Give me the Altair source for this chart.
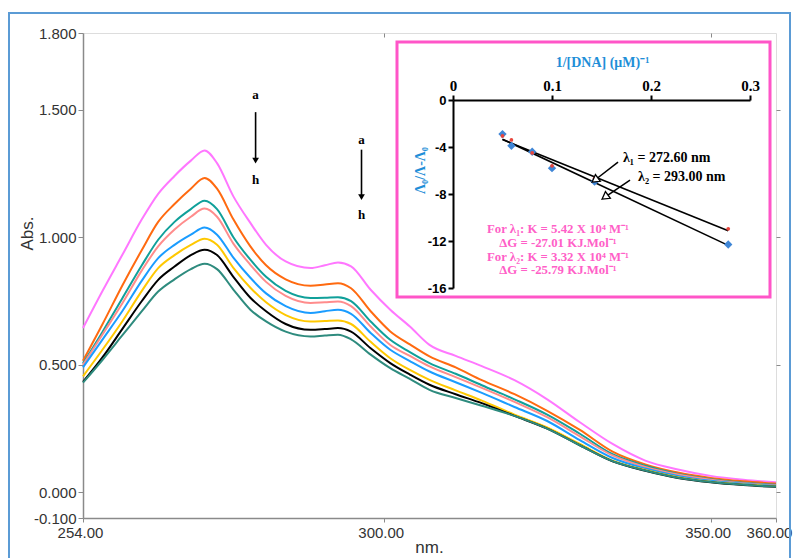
import altair as alt
import pandas as pd

# ---------------- main spectra ----------------
wavelength = [254, 257, 260, 263, 265.5, 268, 270.5, 272.6, 274.5, 277, 279.6, 282, 285, 288.8,
              291, 293, 295, 298, 301, 304, 307, 311, 315, 320, 325, 330, 335, 340, 345, 350, 355, 360]
abs_a = [0.644, 0.79, 0.93, 1.07, 1.17, 1.24, 1.30, 1.34, 1.29, 1.16, 1.056, 0.97, 0.905, 0.879,
         0.89, 0.901, 0.886, 0.794, 0.716, 0.65, 0.578, 0.535, 0.495, 0.44, 0.365, 0.275, 0.19, 0.125, 0.09, 0.065, 0.05, 0.04]
abs_b = [0.516, 0.66, 0.81, 0.95, 1.06, 1.13, 1.19, 1.232, 1.19, 1.07, 0.964, 0.89, 0.835, 0.81,
         0.815, 0.82, 0.80, 0.71, 0.631, 0.58, 0.533, 0.49, 0.44, 0.385, 0.32, 0.245, 0.16, 0.11, 0.078, 0.057, 0.044, 0.035]
abs_c = [0.505, 0.63, 0.76, 0.89, 0.99, 1.06, 1.11, 1.143, 1.11, 1.00, 0.912, 0.845, 0.79, 0.762,
         0.763, 0.765, 0.75, 0.67, 0.598, 0.55, 0.507, 0.465, 0.42, 0.365, 0.305, 0.23, 0.15, 0.105, 0.072, 0.052, 0.038, 0.03]
abs_d = [0.50, 0.62, 0.74, 0.87, 0.964, 1.03, 1.08, 1.112, 1.08, 0.975, 0.892, 0.825, 0.77, 0.742,
         0.745, 0.748, 0.73, 0.65, 0.578, 0.535, 0.494, 0.452, 0.41, 0.355, 0.295, 0.22, 0.145, 0.10, 0.07, 0.05, 0.036, 0.028]
abs_e = [0.49, 0.60, 0.71, 0.83, 0.918, 0.97, 1.01, 1.038, 1.01, 0.92, 0.841, 0.78, 0.73, 0.703,
         0.71, 0.716, 0.70, 0.625, 0.559, 0.515, 0.474, 0.432, 0.39, 0.335, 0.28, 0.205, 0.135, 0.094, 0.065, 0.046, 0.034, 0.026]
abs_f = [0.455, 0.56, 0.67, 0.79, 0.879, 0.93, 0.97, 0.994, 0.97, 0.88, 0.802, 0.745, 0.695, 0.67,
         0.672, 0.674, 0.66, 0.59, 0.526, 0.48, 0.441, 0.40, 0.36, 0.305, 0.255, 0.19, 0.125, 0.088, 0.06, 0.042, 0.031, 0.024]
abs_g = [0.433, 0.53, 0.64, 0.75, 0.833, 0.885, 0.93, 0.951, 0.93, 0.845, 0.763, 0.71, 0.66, 0.637,
         0.64, 0.644, 0.63, 0.565, 0.507, 0.462, 0.422, 0.385, 0.35, 0.30, 0.25, 0.185, 0.122, 0.085, 0.057, 0.04, 0.029, 0.022]
abs_h = [0.43, 0.52, 0.615, 0.71, 0.787, 0.835, 0.875, 0.896, 0.875, 0.795, 0.716, 0.67, 0.63, 0.611,
         0.615, 0.618, 0.60, 0.54, 0.487, 0.445, 0.402, 0.37, 0.34, 0.30, 0.25, 0.185, 0.123, 0.086, 0.058, 0.041, 0.03, 0.023]
curve_labels = ["a", "b", "c", "d", "e", "f", "g", "h"]
curve_colors = ["#ff77ff", "#ff6a10", "#10a09a", "#ff8c8c", "#1a9cff", "#ffc800", "#000000", "#2e8b7e"]

x_ticks = [254, 300, 350, 360]
y_ticks = [1.8, 1.5, 1.0, 0.5, 0.0, -0.1]

# arrows a -> h
arrow_x = [280.4, 296.6]
arrow_top_text = [1.559, 1.382]
arrow_start = [1.49, 1.343]
arrow_end = [1.30, 1.157]
arrow_bottom_text = [1.225, 1.088]

# ---------------- inset (Benesi-Hildebrand plot) ----------------
inv_dna = [0.050, 0.059, 0.080, 0.100, 0.143, 0.278]
ratio_l1 = [-3.06, -3.40, -4.50, -5.60, -6.66, -10.96]   # red, 272.60 nm
ratio_l2 = [-2.90, -3.90, -4.40, -5.80, -6.95, -12.30]   # blue, 293.00 nm
inset_x_ticks = [0, 0.1, 0.2, 0.3]
inset_y_ticks = [0, -4, -8, -12, -16]

lam_text = ["λ₁ = 272.60 nm", "λ₂ = 293.00 nm"]
lam_text_x = [0.1717, 0.1869]
lam_text_y = [-4.94, -6.55]
lam_arrow_x1 = [0.1667, 0.1788]
lam_arrow_y1 = [-5.28, -6.81]
lam_arrow_x2 = [0.1434, 0.1535]
lam_arrow_y2 = [-6.81, -8.26]

pink_text = ["For  λ₁: K = 5.42 X 10⁴ M⁻¹", "ΔG = -27.01 KJ.Mol⁻¹",
             "For  λ₂: K = 3.32 X 10⁴ M⁻¹", "ΔG = -25.79 KJ.Mol⁻¹"]
pink_x = [0.106, 0.106, 0.106, 0.106]
pink_y = [-10.95, -12.13, -13.32, -14.51]

# ---------------- tables ----------------
spectra = pd.DataFrame([
    {"nm": w, "abs": v, "curve": lab}
    for lab, vals in zip(curve_labels, [abs_a, abs_b, abs_c, abs_d, abs_e, abs_f, abs_g, abs_h])
    for w, v in zip(wavelength, vals)
])
arrows = pd.DataFrame({"x": arrow_x, "t1": arrow_top_text, "y1": arrow_start,
                       "y2": arrow_end, "t2": arrow_bottom_text})
inset_pts = pd.DataFrame({"inv": inv_dna * 2, "val": ratio_l1 + ratio_l2,
                          "series": ["l1"] * len(inv_dna) + ["l2"] * len(inv_dna)})
lam_df = pd.DataFrame({"text": lam_text, "tx": lam_text_x, "ty": lam_text_y,
                       "x1": lam_arrow_x1, "y1": lam_arrow_y1, "x2": lam_arrow_x2, "y2": lam_arrow_y2})
pink_df = pd.DataFrame({"text": pink_text, "x": pink_x, "y": pink_y})
one = pd.DataFrame({"k": [0]})

SANS = "Liberation Sans"
SERIF = "Liberation Serif"
GREY = "#8a8a8a"

x_main = alt.Scale(domain=[254, 360], nice=False, zero=False)
y_main = alt.Scale(domain=[-0.1, 1.8], nice=False, zero=False)

minus_fix3 = "replace(format(datum.value, '.3f'), '\u2212', '-')"

frame = alt.Chart(one).mark_rect(fill="white", fillOpacity=0, stroke="#5b9bd5", strokeWidth=2).encode(
    x=alt.value(-74), x2=alt.value(707), y=alt.value(-20), y2=alt.value(530))

curves = alt.Chart(spectra).mark_line(strokeWidth=2, interpolate="monotone").encode(
    x=alt.X("nm:Q", scale=x_main, axis=alt.Axis(
        values=x_ticks, format=".2f", title="nm.", grid=False, labelFlush=False, labelOverlap=False,
        labelFont=SANS, labelFontSize=15, labelColor="#333", labelPadding=3,
        labelOffset={"condition": {"test": "datum.value == 360", "value": -7}, "value": -3},
        tickSize=4, tickColor=GREY, domainColor=GREY, domainWidth=1.5,
        titleFont=SANS, titleFontSize=17, titleFontWeight="normal", titleColor="#333",
        titleX=346, titleY=29, titleBaseline="middle")),
    y=alt.Y("abs:Q", scale=y_main, axis=alt.Axis(
        values=y_ticks, labelExpr=minus_fix3, title="Abs.", grid=False, labelOverlap=False,
        labelFont=SANS, labelFontSize=15, labelColor="#333", labelPadding=2,
        tickSize=5, tickColor=GREY, domainColor=GREY, domainWidth=1.5,
        titleFont=SANS, titleFontSize=17, titleFontWeight="normal", titleColor="#333",
        titleX=-56, titleY=200, titleAngle=270, titleBaseline="middle", titleAlign="center")),
    color=alt.Color("curve:N", scale=alt.Scale(domain=curve_labels, range=curve_colors), legend=None),
)

mirror = alt.Chart(spectra).mark_line(opacity=0).encode(
    x=alt.X("nm:Q", scale=x_main, axis=alt.Axis(
        orient="bottom", offset=-485, values=[300, 350], labels=False, domain=False,
        tickSize=4, tickColor=GREY, title=None, grid=False)),
    y=alt.Y("abs:Q", scale=y_main, axis=alt.Axis(
        orient="right", values=[1.5, 1.0, 0.5, 0.0], labels=False, domain=False,
        tickSize=4, tickColor=GREY, title=None, grid=False)),
)

arrow_rules = alt.Chart(arrows).mark_rule(color="black", strokeWidth=1.6).encode(
    x=alt.X("x:Q", scale=x_main, axis=None),
    y=alt.Y("y1:Q", scale=y_main, axis=None), y2="y2:Q")
arrow_heads = alt.Chart(arrows).mark_point(shape="triangle-down", filled=True, color="black", size=45, opacity=1).encode(
    x=alt.X("x:Q", scale=x_main, axis=None),
    y=alt.Y("y2:Q", scale=y_main, axis=None))
text_a = alt.Chart(arrows).mark_text(font=SERIF, fontWeight="bold", fontSize=13, color="black").encode(
    x=alt.X("x:Q", scale=x_main, axis=None),
    y=alt.Y("t1:Q", scale=y_main, axis=None), text=alt.value("a"))
text_h = alt.Chart(arrows).mark_text(font=SERIF, fontWeight="bold", fontSize=13, color="black").encode(
    x=alt.X("x:Q", scale=x_main, axis=None),
    y=alt.Y("t2:Q", scale=y_main, axis=None), text=alt.value("h"))

main = alt.layer(frame, curves, mirror, arrow_rules, arrow_heads, text_a, text_h).resolve_axis(
    x="independent", y="independent")

# ---------------- inset layers ----------------
x_in = alt.Scale(domain=[0, 0.3], range=[370, 667], nice=False, zero=False)
y_in = alt.Scale(domain=[-16, 0], range=[255, 67], nice=False, zero=False)
BLUE_T = "#1f8fd8"
PINK = "#ff55c8"

box = alt.Chart(one).mark_rect(fill="white", stroke=PINK, strokeWidth=3).encode(
    x=alt.value(314), x2=alt.value(687), y=alt.value(9), y2=alt.value(264))

fit = alt.Chart(inset_pts).transform_regression("inv", "val", groupby=["series"]).mark_line(
    color="black", strokeWidth=1.6).encode(
    x=alt.X("inv:Q", scale=x_in, axis=None),
    y=alt.Y("val:Q", scale=y_in, axis=None),
    detail="series:N")

blue_pts = alt.Chart(inset_pts).transform_filter(alt.datum.series == "l2").mark_point(
    shape="diamond", filled=True, color="#3f86d6", size=70, opacity=1).encode(
    x=alt.X("inv:Q", scale=x_in, axis=alt.Axis(
        orient="top", offset=-67, values=inset_x_ticks, format="~g", grid=False, labelOverlap=False,
        labelFont=SERIF, labelFontWeight="bold", labelFontSize=15, labelColor="black", labelPadding=2,
        labelFlush=False, tickSize=5, tickWidth=2, tickColor="black", domainColor="black", domainWidth=2,
        zindex=2,
        title="1/[DNA] (μM)⁻¹", titleFont=SERIF, titleFontWeight="bold", titleFontSize=14, titleColor=BLUE_T,
        titleX=519, titleY=-38, titleBaseline="middle", titleAlign="center")),
    y=alt.Y("val:Q", scale=y_in, axis=alt.Axis(
        orient="left", offset=-370, values=inset_y_ticks, grid=False, labelOverlap=False,
        labelExpr="replace(format(datum.value, '~g'), '\u2212', '-')",
        labelFont=SANS, labelFontWeight="bold", labelFontSize=13, labelColor="black", labelPadding=2,
        labelFlush=False, tickSize=5, tickWidth=2, tickColor="black", domainColor="black", domainWidth=2,
        zindex=2,
        title="Λ₀/Λ-Λ₀", titleFont=SERIF, titleFontWeight="bold", titleFontSize=14, titleColor=BLUE_T,
        titleX=-33, titleY=137, titleAngle=270, titleBaseline="middle", titleAlign="center")),
)
red_pts = alt.Chart(inset_pts).transform_filter(alt.datum.series == "l1").mark_point(
    shape="circle", filled=True, color="#e8453c", size=14, opacity=1).encode(
    x=alt.X("inv:Q", scale=x_in, axis=None),
    y=alt.Y("val:Q", scale=y_in, axis=None))

lam_rules = alt.Chart(lam_df).mark_rule(color="black", strokeWidth=1.5).encode(
    x=alt.X("x1:Q", scale=x_in, axis=None), x2="x2:Q",
    y=alt.Y("y1:Q", scale=y_in, axis=None), y2="y2:Q")
lam_heads = alt.Chart(lam_df).mark_point(shape="triangle-up", filled=True, fill="white", stroke="black",
                                         strokeWidth=1.3, size=70, angle=234, opacity=1).encode(
    x=alt.X("x2:Q", scale=x_in, axis=None),
    y=alt.Y("y2:Q", scale=y_in, axis=None))
lam_labels = alt.Chart(lam_df).mark_text(font=SERIF, fontWeight="bold", fontSize=14, color="black",
                                         align="left", baseline="middle").encode(
    x=alt.X("tx:Q", scale=x_in, axis=None),
    y=alt.Y("ty:Q", scale=y_in, axis=None), text="text:N")
pink_labels = alt.Chart(pink_df).mark_text(font=SERIF, fontWeight="bold", fontSize=12.8, color="#ff5fc8",
                                           align="center", baseline="middle").encode(
    x=alt.X("x:Q", scale=x_in, axis=None),
    y=alt.Y("y:Q", scale=y_in, axis=None), text="text:N")

inset = alt.layer(box, fit, blue_pts, red_pts, lam_rules, lam_heads, lam_labels, pink_labels).resolve_axis(
    x="independent", y="independent")

chart = alt.layer(main, inset).resolve_scale(x="independent", y="independent").properties(
    width=693, height=485,
    autosize=alt.AutoSizeParams(type="none"),
    padding={"left": 83, "top": 33, "right": 19, "bottom": 40},
).configure_view(stroke=GREY, strokeWidth=1.5).configure(background="white")

chart.save("out.html", embed_options={"renderer": "svg", "actions": False})
